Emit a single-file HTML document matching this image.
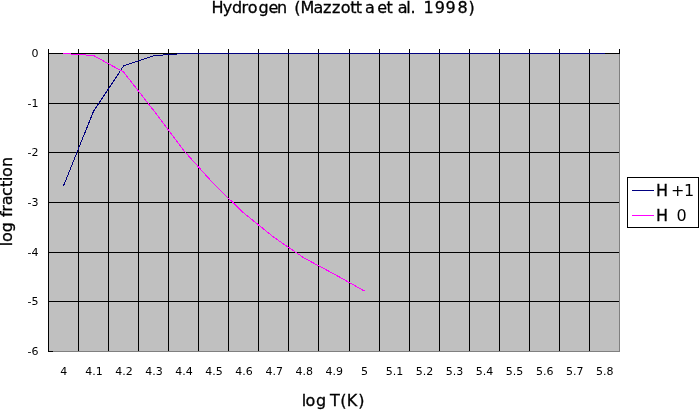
<!DOCTYPE html>
<html><head><meta charset="utf-8"><title>Hydrogen (Mazzotta et al. 1998)</title>
<style>
html,body{margin:0;padding:0;background:#fff;}
body{width:699px;height:410px;overflow:hidden;position:relative;}
svg{position:absolute;left:0;top:0;display:block;will-change:transform;}
.g{shape-rendering:crispEdges;}
text{font-family:"DejaVu Sans","Liberation Sans",sans-serif;fill:#000;}
.b{stroke:#000;stroke-width:0.3px;}
.n{stroke:none;}
</style></head><body>
<svg width="699" height="410" viewBox="0 0 699 410">
<g class="g">
<rect x="48" y="53" width="571" height="298" fill="#c0c0c0"/>
<path d="M48 103.5H619M48 152.5H619M48 202.5H619M48 252.5H619M48 301.5H619M78.5 49V351M108.5 49V351M138.5 49V351M168.5 49V351M198.5 49V351M228.5 49V351M258.5 49V351M288.5 49V351M318.5 49V351M349.5 49V351M379.5 49V351M409.5 49V351M439.5 49V351M469.5 49V351M499.5 49V351M529.5 49V351M559.5 49V351M589.5 49V351" stroke="#000" stroke-width="1" fill="none"/>
<path d="M619.5 54V351.5H48" stroke="#808080" stroke-width="1" fill="none"/>
<path d="M48.5 49V352M48 53.5H620M48 351.5H53M619.5 49V54" stroke="#000" stroke-width="1" fill="none"/>
<polyline points="63.53,185.80 93.58,111.20 123.63,65.90 153.68,55.70 183.74,53.50 213.79,53.50 243.84,53.50 273.89,53.50 303.95,53.50 334.00,53.50 364.05,53.50 394.11,53.50 424.16,53.50 454.21,53.50 484.26,53.50 514.32,53.50 544.37,53.50 574.42,53.50 604.47,53.50" stroke="#000080" stroke-width="1" fill="none" stroke-linecap="square"/>
<polyline points="63.53,53.50 93.58,55.50 123.63,72.10 153.68,110.50 183.74,150.50 213.79,184.00 243.84,213.10 273.89,237.30 303.95,257.90 334.00,274.00 364.05,290.80" stroke="#ff00ff" stroke-width="1" fill="none" stroke-linecap="square"/>
</g>
<g class="g">
<rect x="627.5" y="177.5" width="71" height="50" fill="#fff" stroke="#000" stroke-width="1"/>
<path d="M632 190.5H654" stroke="#000080" stroke-width="1"/>
<path d="M632 215.5H654" stroke="#ff00ff" stroke-width="1"/>
</g>
<text y="13" font-size="16" class="b"><tspan x="211.5 222.7 232.0 241.4 247.8 258.6 268.5 277.1">Hydrogen</tspan> <tspan x="294.3 300.6 313.6 323.1 332.1 340.8 350.3 355.8 364.9">(Mazzotta</tspan> <tspan x="377.3 386.5">et</tspan> <tspan x="397.7 406.3 410.5">al.</tspan> <tspan x="423.4 434.7 445.6 457.4 468.4">1998)</tspan></text>
<text x="38.5" y="57" font-size="11" text-anchor="end">0</text>
<text x="38.5" y="107" font-size="11" text-anchor="end">-1</text>
<text x="38.5" y="156" font-size="11" text-anchor="end">-2</text>
<text x="38.5" y="206" font-size="11" text-anchor="end">-3</text>
<text x="38.5" y="256" font-size="11" text-anchor="end">-4</text>
<text x="38.5" y="305" font-size="11" text-anchor="end">-5</text>
<text x="38.5" y="355" font-size="11" text-anchor="end">-6</text>
<text x="63.8" y="375" font-size="11" text-anchor="middle">4</text>
<text x="93.9" y="375" font-size="11" text-anchor="middle">4.1</text>
<text x="123.9" y="375" font-size="11" text-anchor="middle">4.2</text>
<text x="154.0" y="375" font-size="11" text-anchor="middle">4.3</text>
<text x="184.0" y="375" font-size="11" text-anchor="middle">4.4</text>
<text x="214.1" y="375" font-size="11" text-anchor="middle">4.5</text>
<text x="244.1" y="375" font-size="11" text-anchor="middle">4.6</text>
<text x="274.2" y="375" font-size="11" text-anchor="middle">4.7</text>
<text x="304.2" y="375" font-size="11" text-anchor="middle">4.8</text>
<text x="334.3" y="375" font-size="11" text-anchor="middle">4.9</text>
<text x="364.4" y="375" font-size="11" text-anchor="middle">5</text>
<text x="394.4" y="375" font-size="11" text-anchor="middle">5.1</text>
<text x="424.5" y="375" font-size="11" text-anchor="middle">5.2</text>
<text x="454.5" y="375" font-size="11" text-anchor="middle">5.3</text>
<text x="484.6" y="375" font-size="11" text-anchor="middle">5.4</text>
<text x="514.6" y="375" font-size="11" text-anchor="middle">5.5</text>
<text x="544.7" y="375" font-size="11" text-anchor="middle">5.6</text>
<text x="574.7" y="375" font-size="11" text-anchor="middle">5.7</text>
<text x="604.8" y="375" font-size="11" text-anchor="middle">5.8</text>
<text y="406" font-size="16" class="b"><tspan x="301.8 305.6 316.1">log</tspan> <tspan x="330.1 340.3 346.7 358.3">T(K)</tspan></text>
<text transform="translate(12 0) rotate(-90)" font-size="16" class="b"><tspan x="-246.2 -242.1 -232.2">log</tspan> <tspan x="-216.9 -211.8 -205.3 -196.0 -186.9 -181.0 -177.0 -166.9">fraction</tspan></text>
<text x="656" y="196" font-size="16" class="b">H <tspan x="671" class="n">+</tspan><tspan x="684" class="n">1</tspan></text>
<text x="656" y="221" font-size="16" class="b">H <tspan x="676.5" class="n">0</tspan></text>
</svg>
</body></html>
